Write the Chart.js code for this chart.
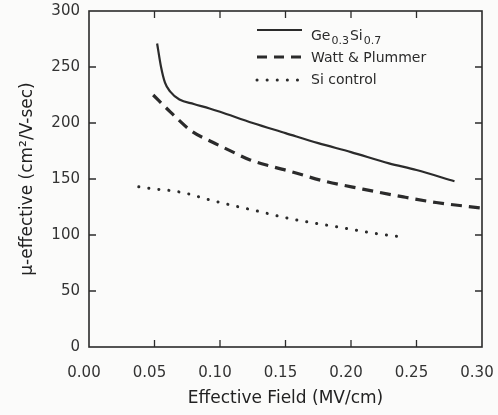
<!DOCTYPE html>
<html>
<head>
<meta charset="utf-8">
<script src="https://cdn.jsdelivr.net/npm/chart.js@4/dist/chart.umd.min.js"></script>
<style>
  html, body { margin: 0; padding: 0; background: #fbfbfa; }
  #wrap { width: 498px; height: 415px; }
</style>
</head>
<body>
<div id="wrap"><canvas id="chart" width="498" height="415"></canvas></div>
<script>
// data
const geX = [0.052, 0.055, 0.058, 0.062, 0.069, 0.080, 0.092, 0.100, 0.125, 0.150, 0.175, 0.200, 0.229, 0.250, 0.279];
const geY = [271, 250, 236, 228, 221, 217, 213, 210, 200, 191, 182, 174, 164, 158, 148];

const wattX = [0.049, 0.062, 0.078, 0.094, 0.110, 0.123, 0.140, 0.153, 0.180, 0.209, 0.240, 0.265, 0.300];
const wattY = [225, 210, 193, 183, 174, 167, 161, 157, 148, 141, 134, 129, 124];

const siX = [0.038, 0.050, 0.060, 0.075, 0.090, 0.111, 0.130, 0.148, 0.170, 0.191, 0.215, 0.241];
const siY = [143, 141, 140, 137, 132, 126, 121, 116, 111, 107, 102, 98];

const xTicks = [0, 0.05, 0.10, 0.15, 0.20, 0.25, 0.30];
const yTicks = [0, 50, 100, 150, 200, 250, 300];

const ink = '#2b2b2b';
const font = 'DejaVu Sans, sans-serif';

function pts(xs, ys) {
    return xs.map((x, i) => ({ x: x, y: ys[i] }));
}

// box, inward ticks and the in-plot legend
const framePlugin = {
    id: 'frame',
    afterDraw(chart) {
        const ctx = chart.ctx;
        const a = chart.chartArea;
        const xs = chart.scales.x, ys = chart.scales.y;
        ctx.save();
        ctx.strokeStyle = ink;
        ctx.lineWidth = 1.6;
        ctx.strokeRect(a.left, a.top, a.right - a.left, a.bottom - a.top);
        ctx.lineWidth = 1.3;
        const len = 7;
        xTicks.slice(1, -1).forEach(v => {
            const px = xs.getPixelForValue(v);
            ctx.beginPath();
            ctx.moveTo(px, a.bottom); ctx.lineTo(px, a.bottom - len);
            ctx.moveTo(px, a.top); ctx.lineTo(px, a.top + len);
            ctx.stroke();
        });
        yTicks.slice(1, -1).forEach(v => {
            const py = ys.getPixelForValue(v);
            ctx.beginPath();
            ctx.moveTo(a.left, py); ctx.lineTo(a.left + len, py);
            ctx.moveTo(a.right, py); ctx.lineTo(a.right - len, py);
            ctx.stroke();
        });

        // legend
        const lx0 = 257, lx1 = 302, tx = 311;
        ctx.fillStyle = ink;
        ctx.textBaseline = 'alphabetic';
        const rows = [
            { y: 30, dash: [], w: 2.2, cap: 'butt' },
            { y: 57, dash: [10, 7], w: 3.2, cap: 'butt' },
            { y: 80, dash: [0.1, 10], w: 3, cap: 'round' }
        ];
        rows.forEach(r => {
            ctx.beginPath();
            ctx.setLineDash(r.dash);
            ctx.lineCap = r.cap;
            ctx.lineWidth = r.w;
            ctx.moveTo(lx0, r.y); ctx.lineTo(lx1, r.y);
            ctx.stroke();
        });
        ctx.setLineDash([]);
        let x = tx;
        const big = '14px ' + font, small = '11px ' + font;
        [['Ge', big, 0], ['0.3', small, 4], ['Si', big, 0], ['0.7', small, 4]].forEach(p => {
            ctx.font = p[1];
            ctx.fillText(p[0], x, 40 + p[2]);
            x += ctx.measureText(p[0]).width + 1;
        });
        ctx.font = big;
        ctx.fillText('Watt & Plummer', tx, 62);
        ctx.fillText('Si control', tx, 84);
        ctx.restore();
    }
};

const lineStyle = {
    borderColor: ink,
    pointRadius: 0,
    fill: false,
    cubicInterpolationMode: 'monotone'
};

new Chart(document.getElementById('chart'), {
    type: 'line',
    data: {
        datasets: [
            Object.assign({ label: 'Ge0.3Si0.7', data: pts(geX, geY), borderWidth: 2.2 }, lineStyle),
            Object.assign({ label: 'Watt & Plummer', data: pts(wattX, wattY), borderWidth: 3.2, borderDash: [11, 7] }, lineStyle),
            Object.assign({ label: 'Si control', data: pts(siX, siY), borderWidth: 3, borderDash: [0.1, 10], borderCapStyle: 'round' }, lineStyle)
        ]
    },
    options: {
        responsive: false,
        animation: false,
        layout: { padding: { top: 11, right: 16, left: 0, bottom: 0 } },
        plugins: { legend: { display: false }, tooltip: { enabled: false } },
        scales: {
            x: {
                type: 'linear',
                min: 0, max: 0.30,
                afterBuildTicks: s => { s.ticks = xTicks.map(v => ({ value: v })); },
                afterFit: s => {
                    s.height = 68;
                    s.paddingLeft = 0; s.paddingRight = 0;
                },
                grid: { display: false, drawTicks: false },
                border: { display: false },
                ticks: {
                    padding: 17,
                    labelOffset: -5,
                    color: '#333',
                    font: { family: font, size: 15 },
                    maxRotation: 0,
                    callback: v => v.toFixed(2)
                },
                title: {
                    display: true,
                    text: 'Effective Field (MV/cm)',
                    color: '#222',
                    font: { family: font, size: 17 },
                    padding: { top: 0, bottom: 6 }
                }
            },
            y: {
                min: 0, max: 300,
                afterBuildTicks: s => { s.ticks = yTicks.map(v => ({ value: v })); },
                afterFit: s => {
                    s.width = 89;
                    s.paddingTop = 0; s.paddingBottom = 0;
                },
                grid: { display: false, drawTicks: false },
                border: { display: false },
                ticks: {
                    padding: 9,
                    color: '#333',
                    font: { family: font, size: 15 }
                },
                title: {
                    display: true,
                    text: 'μ-effective (cm²/V-sec)',
                    color: '#222',
                    font: { family: font, size: 17 },
                    padding: { top: 17, bottom: 0 }
                }
            }
        }
    },
    plugins: [framePlugin]
});
</script>
</body>
</html>
